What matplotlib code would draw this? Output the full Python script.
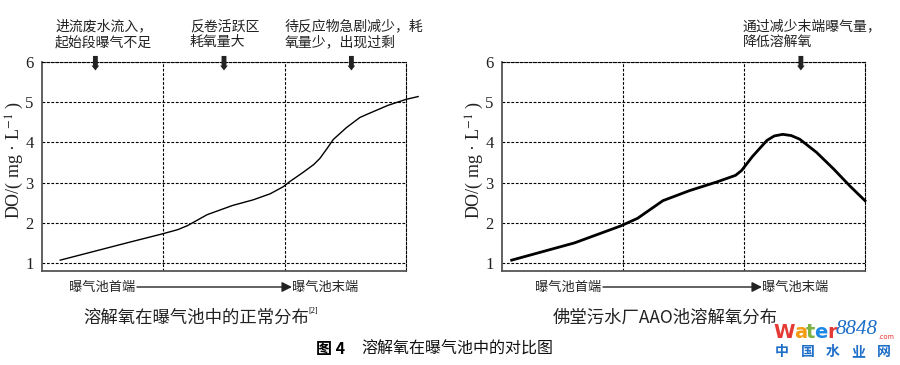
import matplotlib
matplotlib.use('Agg')
import matplotlib.pyplot as plt

plt.rcParams['font.family'] = ['Noto Sans CJK SC', 'DejaVu Sans']
plt.rcParams['mathtext.fontset'] = 'stix'

W, H = 900, 365

# data (x: position along the tank in thirds, y: DO mg/L)
left_x = [0.15, 0.70, 1.00, 1.12, 1.20, 1.36, 1.57, 1.74, 1.88, 1.99, 2.04, 2.15, 2.24, 2.29, 2.35, 2.40, 2.51, 2.62, 2.68, 2.85, 3.00, 3.10]
left_y = [1.07, 1.50, 1.73, 1.83, 1.93, 2.20, 2.43, 2.57, 2.72, 2.90, 3.02, 3.25, 3.45, 3.60, 3.85, 4.07, 4.37, 4.62, 4.70, 4.92, 5.07, 5.14]

right_x = [0.08, 0.60, 0.98, 1.12, 1.33, 1.55, 1.78, 1.93, 1.98, 2.07, 2.19, 2.25, 2.32, 2.39, 2.46, 2.60, 2.74, 2.88, 3.00]
right_y = [1.07, 1.50, 1.92, 2.11, 2.55, 2.80, 3.02, 3.18, 3.30, 3.65, 4.05, 4.16, 4.20, 4.17, 4.08, 3.75, 3.34, 2.90, 2.55]

y_ticks = [1, 2, 3, 4, 5, 6]
left_notes = [('进流废水流入，\n起始段曝气不足', 0.44, 55),
              ('反卷活跃区\n耗氧量大', 1.50, 190),
              ('待反应物急剧减少，耗\n氧量少，出现过剩', 2.55, 285)]
right_notes = [('通过减少末端曝气量，\n降低溶解氧', 2.47, 743)]


def fx(px):
    return px / W


def fy(py):
    return 1 - py / H


fig = plt.figure(figsize=(9, 3.65), dpi=100)


def make_panel(left_px, right_px, xs, ys, lw, notes, start_px, arrow_end, title, title_x):
    ax = fig.add_axes([fx(left_px), fy(271), (right_px - left_px) / W, (271 - 62) / H])
    ax.plot(xs, ys, color='black', lw=lw, clip_on=False, solid_joinstyle='round')
    ax.set_xlim(0, 3)
    ax.set_ylim(0.8, 6)
    ax.set_xticks([1, 2])
    ax.set_yticks(y_ticks)
    ax.tick_params(length=0, pad=6)
    ax.set_xticklabels([])
    ax.set_yticklabels([str(t) for t in y_ticks], family='Liberation Serif', fontsize=12, color='#222222')
    ax.grid(True, color='black', lw=0.8, ls=(0, (2.5, 1.5)))
    for s in ['left', 'bottom']:
        ax.spines[s].set_color('#555555')
        ax.spines[s].set_linewidth(1.3)
    for s in ['top', 'right']:
        ax.spines[s].set_linestyle((0, (2.5, 1.5)))
        ax.spines[s].set_linewidth(0.8)
    ax.set_ylabel('DO/( mg · L$^{-1}$ )', family='Liberation Serif', fontsize=13, color='#222222',
                  va='center', ha='center')
    ax.yaxis.set_label_coords(-27 / (right_px - left_px), 0.53)

    for txt, ax_x, tx in notes:
        fig.text(fx(tx), fy(19), txt, fontsize=10, ha='left', va='top', linespacing=1.2, color='#222222')
        ax.annotate('', xy=(ax_x, 5.72), xytext=(ax_x, 6.22),
                    arrowprops=dict(arrowstyle='simple,head_width=0.55,head_length=0.35,tail_width=0.35',
                                    color='#222222', lw=0),
                    annotation_clip=False)

    fig.text(fx(start_px), fy(287), '曝气池首端', fontsize=9.5, ha='right', va='center', color='#222222')
    fig.text(fx(arrow_end + 2), fy(287), '曝气池末端', fontsize=9.5, ha='left', va='center', color='#222222')
    fig.add_artist(matplotlib.patches.FancyArrowPatch(
        (fx(start_px + 2), fy(287)), (fx(arrow_end + 2), fy(287)), transform=fig.transFigure,
        arrowstyle='-|>,head_length=6,head_width=3', color='#222222', lw=1.0, shrinkA=0, shrinkB=0))

    fig.text(fx(title_x), fy(318), title, fontsize=12.5, ha='left', va='center', color='#222222')
    return ax


make_panel(42, 406, left_x, left_y, 1.0, left_notes, 135, 290,
           '溶解氧在曝气池中的正常分布', 83)
fig.text(fx(308), fy(311), '[2]', fontsize=6, ha='left', va='center', family='Liberation Serif')
make_panel(502, 865, right_x, right_y, 2.0, right_notes, 601, 760,
           '佛堂污水厂AAO池溶解氧分布', 553)

# figure caption
fig.text(fx(316), fy(349), '图 4', fontsize=11.5, fontweight='bold', ha='left', va='center')
fig.text(fx(361), fy(349), '溶解氧在曝气池中的对比图', fontsize=11.5, ha='left', va='center', color='#111111')

# watermark
wm = [('W', '#e53935', 773), ('a', '#f39c12', 794), ('t', '#7cb342', 806), ('e', '#1e88e5', 814), ('r', '#e53935', 827)]
for ch, c, x in wm:
    fig.text(fx(x), fy(332), ch, fontsize=14, fontweight='bold', color=c, ha='left', va='center',
             family='DejaVu Sans')
fig.text(fx(836), fy(330), '8848', fontsize=15, style='italic', color='#1e6fc8', ha='left', va='center',
         family='Liberation Serif')
fig.text(fx(878), fy(337), '.com', fontsize=5, color='#e53935', ha='left', va='center')
for i, ch in enumerate('中国水业网'):
    fig.text(fx(782 + i * 25.5), fy(352), ch, fontsize=10, fontweight='bold', color='#1e6fc8',
             ha='center', va='center')

fig.savefig('out.png', dpi=100)
